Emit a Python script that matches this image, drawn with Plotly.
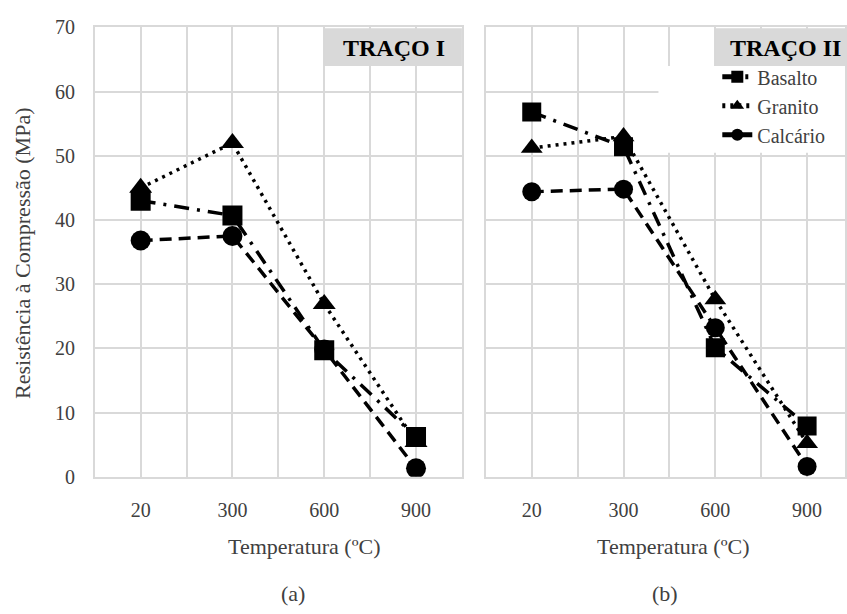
import plotly.graph_objects as go

# Compressive strength (MPa) of concrete after exposure to high temperatures
temperaturas = ["20", "300", "600", "900"]
series = ["Basalto", "Granito", "Calcário"]

traco1_basalto = [43.0, 40.7, 19.7, 6.2]
traco1_granito = [45.0, 52.0, 26.9, 5.4]
traco1_calcario = [36.8, 37.5, 19.8, 1.3]

traco2_basalto = [56.8, 51.4, 20.1, 7.9]
traco2_granito = [51.2, 53.0, 27.6, 5.2]
traco2_calcario = [44.4, 44.8, 23.2, 1.6]

y_ticks = [0, 10, 20, 30, 40, 50, 60, 70]

W, H = 847, 614
FONT = "Liberation Serif"
GRID = "#d9d9d9"
TXT = "#404040"


def px(x):
    return x / W


def py(y):
    return 1 - y / H


styles = {
    "Basalto": dict(symbol="square", dash="15px,8px,3px,8px"),
    "Granito": dict(symbol="triangle-up", dash="3px,5px"),
    "Calcário": dict(symbol="circle", dash="12px,7px"),
}

xpos = list(range(len(temperaturas)))

fig = go.Figure()

panels = [
    ("x", "y", [traco1_basalto, traco1_granito, traco1_calcario], False, 20),
    ("x2", "y2", [traco2_basalto, traco2_granito, traco2_calcario], True, 19),
]
for xa, ya, data, show, msize in panels:
    # Basalto is painted last so its squares sit on top
    for name, vals in reversed(list(zip(series, data))):
        st = styles[name]
        fig.add_trace(go.Scatter(
            x=xpos, y=vals, name=name, xaxis=xa, yaxis=ya,
            mode="lines+markers", showlegend=show,
            line=dict(color="black", width=3.5, dash=st["dash"]),
            marker=dict(symbol=st["symbol"], size=msize, color="black"),
        ))

xcommon = dict(
    tickmode="array", tickvals=xpos, ticktext=temperaturas,
    showgrid=True, gridcolor=GRID, gridwidth=1.5,
    minor=dict(tickmode="array", tickvals=[p + 0.5 for p in [-1] + xpos],
               showgrid=True, gridcolor=GRID, gridwidth=1.5),
    zeroline=False, showline=True, linecolor=GRID, linewidth=1.5, mirror=True,
    tickfont=dict(family=FONT, size=20, color=TXT), ticks="",
    ticklabelstandoff=15, fixedrange=True,
)
ycommon = dict(
    range=[0, 70], tickvals=y_ticks,
    showgrid=True, gridcolor=GRID, gridwidth=1.5,
    zeroline=False, showline=True, linecolor=GRID, linewidth=1.5, mirror=True,
    tickfont=dict(family=FONT, size=20, color=TXT), ticks="",
    ticklabelstandoff=14,
)

fig.update_layout(
    width=W, height=H,
    margin=dict(l=0, r=0, t=0, b=0),
    paper_bgcolor="white", plot_bgcolor="white",
    font=dict(family=FONT, color=TXT),
    xaxis=dict(domain=[px(95), px(463)], range=[-0.5, 3.5], anchor="y", **xcommon),
    xaxis2=dict(domain=[px(487), 1.0], range=[-0.5, -0.5 + 360 / 92], anchor="y2", **xcommon),
    yaxis=dict(domain=[py(483), py(17)], anchor="x", **ycommon),
    yaxis2=dict(domain=[py(483), py(17)], anchor="x2", showticklabels=False, **ycommon),
    legend=dict(
        x=px(719), y=py(48), xanchor="left", yanchor="top",
        bgcolor="rgba(0,0,0,0)", borderwidth=0, itemsizing="constant",
        traceorder="reversed",
        font=dict(family=FONT, size=20, color=TXT), tracegroupgap=0,
    ),
    showlegend=True,
)

shapes = [
    # legend backdrop
    dict(type="rect", xref="paper", yref="paper", x0=px(660), x1=1.0,
         y0=py(147), y1=py(57), fillcolor="white", line=dict(width=0), layer="above"),
    # panel labels
    dict(type="rect", xref="paper", yref="paper", x0=px(325), x1=px(463),
         y0=py(57), y1=py(18), fillcolor="#d9d9d9", line=dict(width=0), layer="above"),
    dict(type="rect", xref="paper", yref="paper", x0=px(717), x1=1.0,
         y0=py(57), y1=py(18), fillcolor="#d9d9d9", line=dict(width=0), layer="above"),
]
fig.update_layout(shapes=shapes)

annotations = [
    dict(text="<b>TRAÇO I</b>", x=px(395), y=py(38), font=dict(size=24, color="black")),
    dict(text="<b>TRAÇO II</b>", x=px(787), y=py(38), font=dict(size=24, color="black")),
    dict(text="Resistência à Compressão (MPa)", x=px(22), y=py(251), textangle=-90,
         font=dict(size=22, color=TXT)),
    dict(text="Temperatura (ºC)", x=px(305), y=py(555), font=dict(size=22, color=TXT)),
    dict(text="Temperatura (ºC)", x=px(675), y=py(555), font=dict(size=22, color=TXT)),
    dict(text="(a)", x=px(294), y=py(604), font=dict(size=22, color=TXT)),
    dict(text="(b)", x=px(667), y=py(604), font=dict(size=22, color=TXT)),
]
for a in annotations:
    a.update(xref="paper", yref="paper", showarrow=False, xanchor="center", yanchor="middle")
    a["font"]["family"] = FONT
fig.update_layout(annotations=annotations)

fig.write_html("out.html")
